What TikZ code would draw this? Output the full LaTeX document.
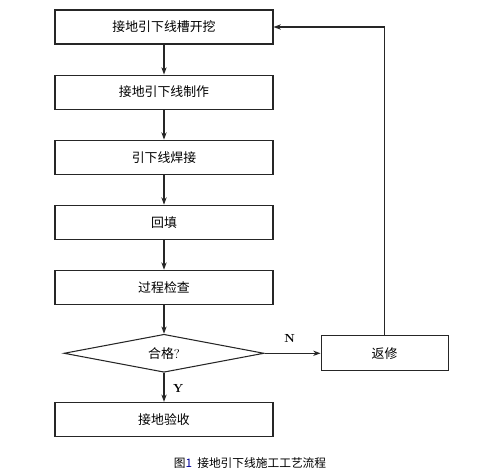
\documentclass[tikz,border=0pt]{standalone}
\usepackage{fontspec}
\newfontfamily\cjk{Noto Sans CJK SC}
\usetikzlibrary{arrows.meta,positioning,shapes.geometric}

\begin{document}
\begin{tikzpicture}[
  node distance=0.9cm and 1.68cm,
  box/.style={rectangle, draw=black!85, line width=0.9pt, align=center,
              minimum width=6.54cm, minimum height=1.02cm, font=\cjk\fontsize{11}{13}\selectfont},
  fixbox/.style={box, minimum width=3.81cm, minimum height=1.05cm},
  check/.style={diamond, draw=black!85, line width=0.9pt, aspect=5.26, inner sep=0pt,
              minimum width=6cm, minimum height=1.14cm, font=\cjk\fontsize{11}{13}\selectfont},
  lbl/.style={font=\bfseries\fontsize{10}{12}\selectfont},
  arr/.style={-{Stealth[length=2.2mm, width=1.6mm]}, line width=0.9pt, draw=black!85}
]
\useasboundingbox (0,0) rectangle (14.76,-14.13);
\node[box] (dig) at (4.92,-0.81) {接地引下线槽开挖};
\node[box, below=of dig] (make) {接地引下线制作};
\node[box, below=of make] (weld) {引下线焊接};
\node[box, below=of weld] (fill) {回填};
\node[box, below=of fill] (insp) {过程检查};
\node[check, below=0.87cm of insp] (ok) {合格\rmfamily ?};
\node[box, below=0.87cm of ok] (accept) {接地验收};
\node[fixbox, right=of ok] (fix) {返修};

% caption
\node[font=\cjk\fontsize{10}{12}\selectfont] (cap) at (7.5,-13.89) {图{\color{blue!60!black}1}\ \ 接地引下线施工工艺流程};

\draw[arr] (dig) -- (make);
\draw[arr] (make) -- (weld);
\draw[arr] (weld) -- (fill);
\draw[arr] (fill) -- (insp);
\draw[arr] (insp) -- (ok);
\draw[arr] (ok) -- node[lbl, right=4pt, pos=0.55] {Y} (accept);
\draw[arr] (ok) -- node[lbl, above=5pt, pos=0.45] {N} (fix);
\draw[arr] (fix.north) |- (dig.east);
\end{tikzpicture}
\end{document}
